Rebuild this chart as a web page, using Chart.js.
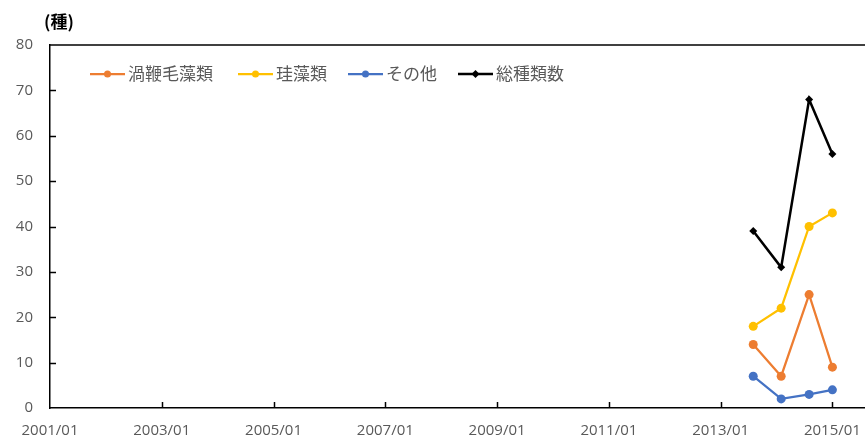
<!DOCTYPE html>
<html>
<head>
<meta charset="utf-8">
<script src="https://cdn.jsdelivr.net/npm/chart.js@4.4.1/dist/chart.umd.min.js"></script>
<style>
  html, body { margin: 0; padding: 0; background: #ffffff; }
  #grafico { display: block; }
</style>
</head>
<body>
<canvas id="grafico" width="865" height="439"></canvas>
<script>
// dados
const datas = ['2013/08', '2014/02', '2014/08', '2015/01'];
const dinoflagelados = [14, 7, 25, 9];
const diatomaceas = [18, 22, 40, 43];
const outros = [7, 2, 3, 4];
const totalEspecies = [39, 31, 68, 56];

const rotulosX = ['2001/01', '2003/01', '2005/01', '2007/01', '2009/01', '2011/01', '2013/01', '2015/01'];
const rotulosY = [0, 10, 20, 30, 40, 50, 60, 70, 80];

const nomesSeries = ['渦鞭毛藻類', '珪藻類', 'その他', '総種類数'];
const cores = ['#ed7d31', '#ffc000', '#4472c4', '#000000'];

function paraMeses(rotulo) {
  const [ano, mes] = rotulo.split('/');
  return (Number(ano) - 2001) * 12 + Number(mes) - 1;
}

function montarPontos(valores) {
  return valores.map((valor, i) => ({ x: paraMeses(datas[i]), y: valor }));
}

const fonteNumeros = '"Open Sans", "DejaVu Sans", sans-serif';
const fonteJapones = '"Noto Sans CJK JP", sans-serif';

// legenda, marcas internas e borda superior no estilo do Excel
const pluginExtras = {
  id: 'extras',
  afterDraw(chart) {
    const ctx = chart.ctx;
    const area = chart.chartArea;
    const escalaX = chart.scales.x;
    const escalaY = chart.scales.y;

    ctx.save();
    ctx.strokeStyle = '#000000';
    ctx.lineWidth = 1.5;

    ctx.beginPath();
    ctx.moveTo(area.left, area.top);
    ctx.lineTo(area.right, area.top);
    ctx.stroke();

    rotulosY.slice(1, -1).forEach((valor) => {
      const y = Math.round(escalaY.getPixelForValue(valor)) + 0.5;
      ctx.beginPath();
      ctx.moveTo(area.left, y);
      ctx.lineTo(area.left + 6, y);
      ctx.stroke();
    });

    rotulosX.slice(1).forEach((rotulo) => {
      const x = Math.round(escalaX.getPixelForValue(paraMeses(rotulo))) + 0.5;
      ctx.beginPath();
      ctx.moveTo(x, area.bottom);
      ctx.lineTo(x, area.bottom - 6);
      ctx.stroke();
    });

    // unidade do eixo
    ctx.fillStyle = '#000000';
    ctx.font = 'bold 17px ' + fonteJapones;
    ctx.textAlign = 'left';
    ctx.textBaseline = 'middle';
    ctx.fillText('(種)', 44, 22);

    // legenda dentro da área do gráfico
    const inicios = [90, 238, 348, 458];
    const yLegenda = 74;
    chart.data.datasets.forEach((conjunto, i) => {
      const x0 = inicios[i];
      ctx.strokeStyle = conjunto.borderColor;
      ctx.lineWidth = conjunto.borderWidth;
      ctx.beginPath();
      ctx.moveTo(x0, yLegenda);
      ctx.lineTo(x0 + 35, yLegenda);
      ctx.stroke();

      ctx.fillStyle = conjunto.borderColor;
      ctx.beginPath();
      if (conjunto.pointStyle === 'rectRot') {
        ctx.moveTo(x0 + 17.5, yLegenda - 4);
        ctx.lineTo(x0 + 21.5, yLegenda);
        ctx.lineTo(x0 + 17.5, yLegenda + 4);
        ctx.lineTo(x0 + 13.5, yLegenda);
        ctx.closePath();
      } else {
        ctx.arc(x0 + 17.5, yLegenda, 3.5, 0, Math.PI * 2);
      }
      ctx.fill();

      ctx.fillStyle = '#595959';
      ctx.font = '17px ' + fonteJapones;
      ctx.textAlign = 'left';
      ctx.textBaseline = 'middle';
      ctx.fillText(conjunto.label, x0 + 38, yLegenda);
    });
    ctx.restore();
  },
};

function criarConjunto(indice, valores) {
  const losango = indice === 3;
  return {
    label: nomesSeries[indice],
    data: montarPontos(valores),
    borderColor: cores[indice],
    backgroundColor: cores[indice],
    borderWidth: losango ? 2.5 : 2.25,
    pointStyle: losango ? 'rectRot' : 'circle',
    pointRadius: losango ? 4 : 4.5,
    pointBorderWidth: 0,
    pointBackgroundColor: cores[indice],
    tension: 0,
  };
}

new Chart(document.querySelector('#grafico'), {
  type: 'line',
  data: {
    datasets: [
      criarConjunto(0, dinoflagelados),
      criarConjunto(1, diatomaceas),
      criarConjunto(2, outros),
      criarConjunto(3, totalEspecies),
    ],
  },
  options: {
    responsive: false,
    animation: false,
    devicePixelRatio: 1,
    layout: { autoPadding: false, padding: { top: 45, right: 0, left: 0, bottom: 0 } },
    plugins: {
      legend: { display: false },
      tooltip: { enabled: false },
    },
    scales: {
      x: {
        type: 'linear',
        min: 0,
        max: 175,
        afterBuildTicks: (escala) => {
          escala.ticks = rotulosX.map((rotulo) => ({ value: paraMeses(rotulo) }));
        },
        afterFit: (escala) => {
          escala.height = 31;
          escala.paddingLeft = 0;
          escala.paddingRight = 0;
        },
        grid: { display: false, drawTicks: false },
        border: { display: true, color: '#000000', width: 1.5 },
        ticks: {
          autoSkip: false,
          maxRotation: 0,
          padding: 14,
          color: '#595959',
          font: { family: fonteNumeros, size: 15 },
          callback: (valor) => rotulosX.find((rotulo) => paraMeses(rotulo) === valor) || '',
        },
      },
      y: {
        min: 0,
        max: 80,
        afterBuildTicks: (escala) => {
          escala.ticks = rotulosY.map((valor) => ({ value: valor }));
        },
        afterFit: (escala) => {
          escala.width = 50;
        },
        grid: { display: false, drawTicks: false },
        border: { display: true, color: '#000000', width: 1.5 },
        ticks: {
          padding: 17,
          color: '#595959',
          font: { family: fonteNumeros, size: 15 },
        },
      },
    },
  },
  plugins: [pluginExtras],
});
</script>
</body>
</html>
